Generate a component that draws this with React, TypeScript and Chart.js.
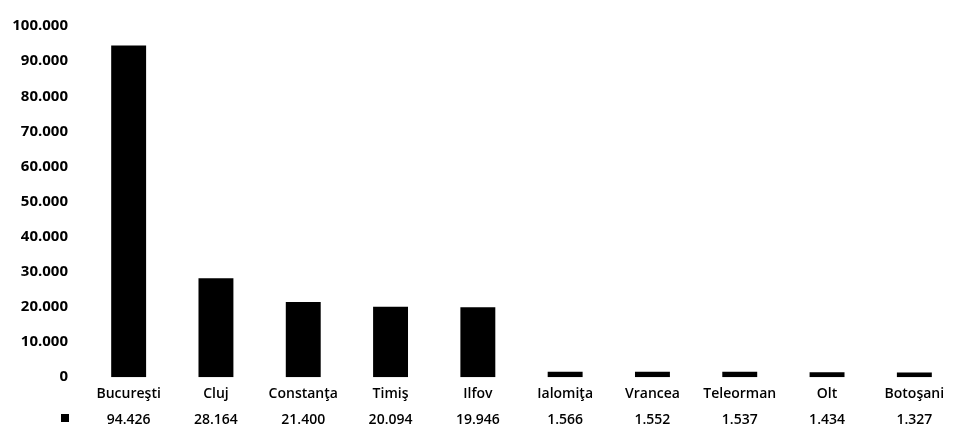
import React, { useEffect, useRef } from "react";
import { Chart, registerables } from "chart.js";

Chart.register(...registerables);

const categories = ["Bucureşti", "Cluj", "Constanţa", "Timiş", "Ilfov", "Ialomiţa", "Vrancea", "Teleorman", "Olt", "Botoşani"];
const values = [94426, 28164, 21400, 20094, 19946, 1566, 1552, 1537, 1434, 1327];
const yMax = 100000;
const yStep = 10000;

const FONT = "'Open Sans', 'Lato', sans-serif";

const fmt = (v: number) => {
  const s = Math.round(v).toString();
  return s.replace(/\B(?=(\d{3})+(?!\d))/g, ".");
};

const tablePlugin = {
  id: "dataTableRow",
  afterDraw(chart: any) {
    const ctx = chart.ctx;
    const xs = chart.scales.x;
    ctx.save();
    ctx.fillStyle = "#000";
    ctx.font = `600 14px ${FONT}`;
    ctx.textAlign = "center";
    ctx.textBaseline = "middle";
    const y = 420;
    values.forEach((v, i) => {
      ctx.fillText(fmt(v), xs.getPixelForValue(i), y);
    });
    ctx.fillRect(61, 414, 8, 8);
    ctx.restore();
  },
};

export default function App() {
  const ref = useRef<HTMLCanvasElement | null>(null);
  useEffect(() => {
    if (!ref.current) return;
    const chart = new Chart(ref.current, {
      type: "bar",
      data: {
        labels: categories,
        datasets: [
          {
            data: values,
            backgroundColor: "#000",
            borderWidth: 0,
            barPercentage: 0.4,
            categoryPercentage: 1,
          },
        ],
      },
      options: {
        responsive: false,
        animation: false,
        maintainAspectRatio: false,
        layout: { padding: { top: 14, bottom: 24, left: 0, right: 0 } },
        plugins: { legend: { display: false }, tooltip: { enabled: false } },
        scales: {
          x: {
            grid: { display: false, drawTicks: false },
            border: { display: false },
            ticks: {
              color: "#000",
              font: { family: FONT, size: 14, weight: "600" },
              padding: 8,
              maxRotation: 0,
              autoSkip: false,
            },
          },
          y: {
            min: 0,
            max: yMax,
            grid: { display: false, drawTicks: false },
            border: { display: false },
            afterFit: (s: any) => {
              s.width = 85;
            },
            ticks: {
              stepSize: yStep,
              color: "#000",
              padding: 17,
              font: { family: FONT, size: 15, weight: "bold" },
              callback: (v: any) => fmt(Number(v)),
            },
          },
        },
      },
      plugins: [tablePlugin],
    });
    return () => chart.destroy();
  }, []);
  return (
    <div style={{ position: "fixed", left: 0, top: 0, width: 958, height: 434, background: "#fff" }}>
      <canvas ref={ref} width={958} height={434} style={{ width: 958, height: 434 }} />
    </div>
  );
}
